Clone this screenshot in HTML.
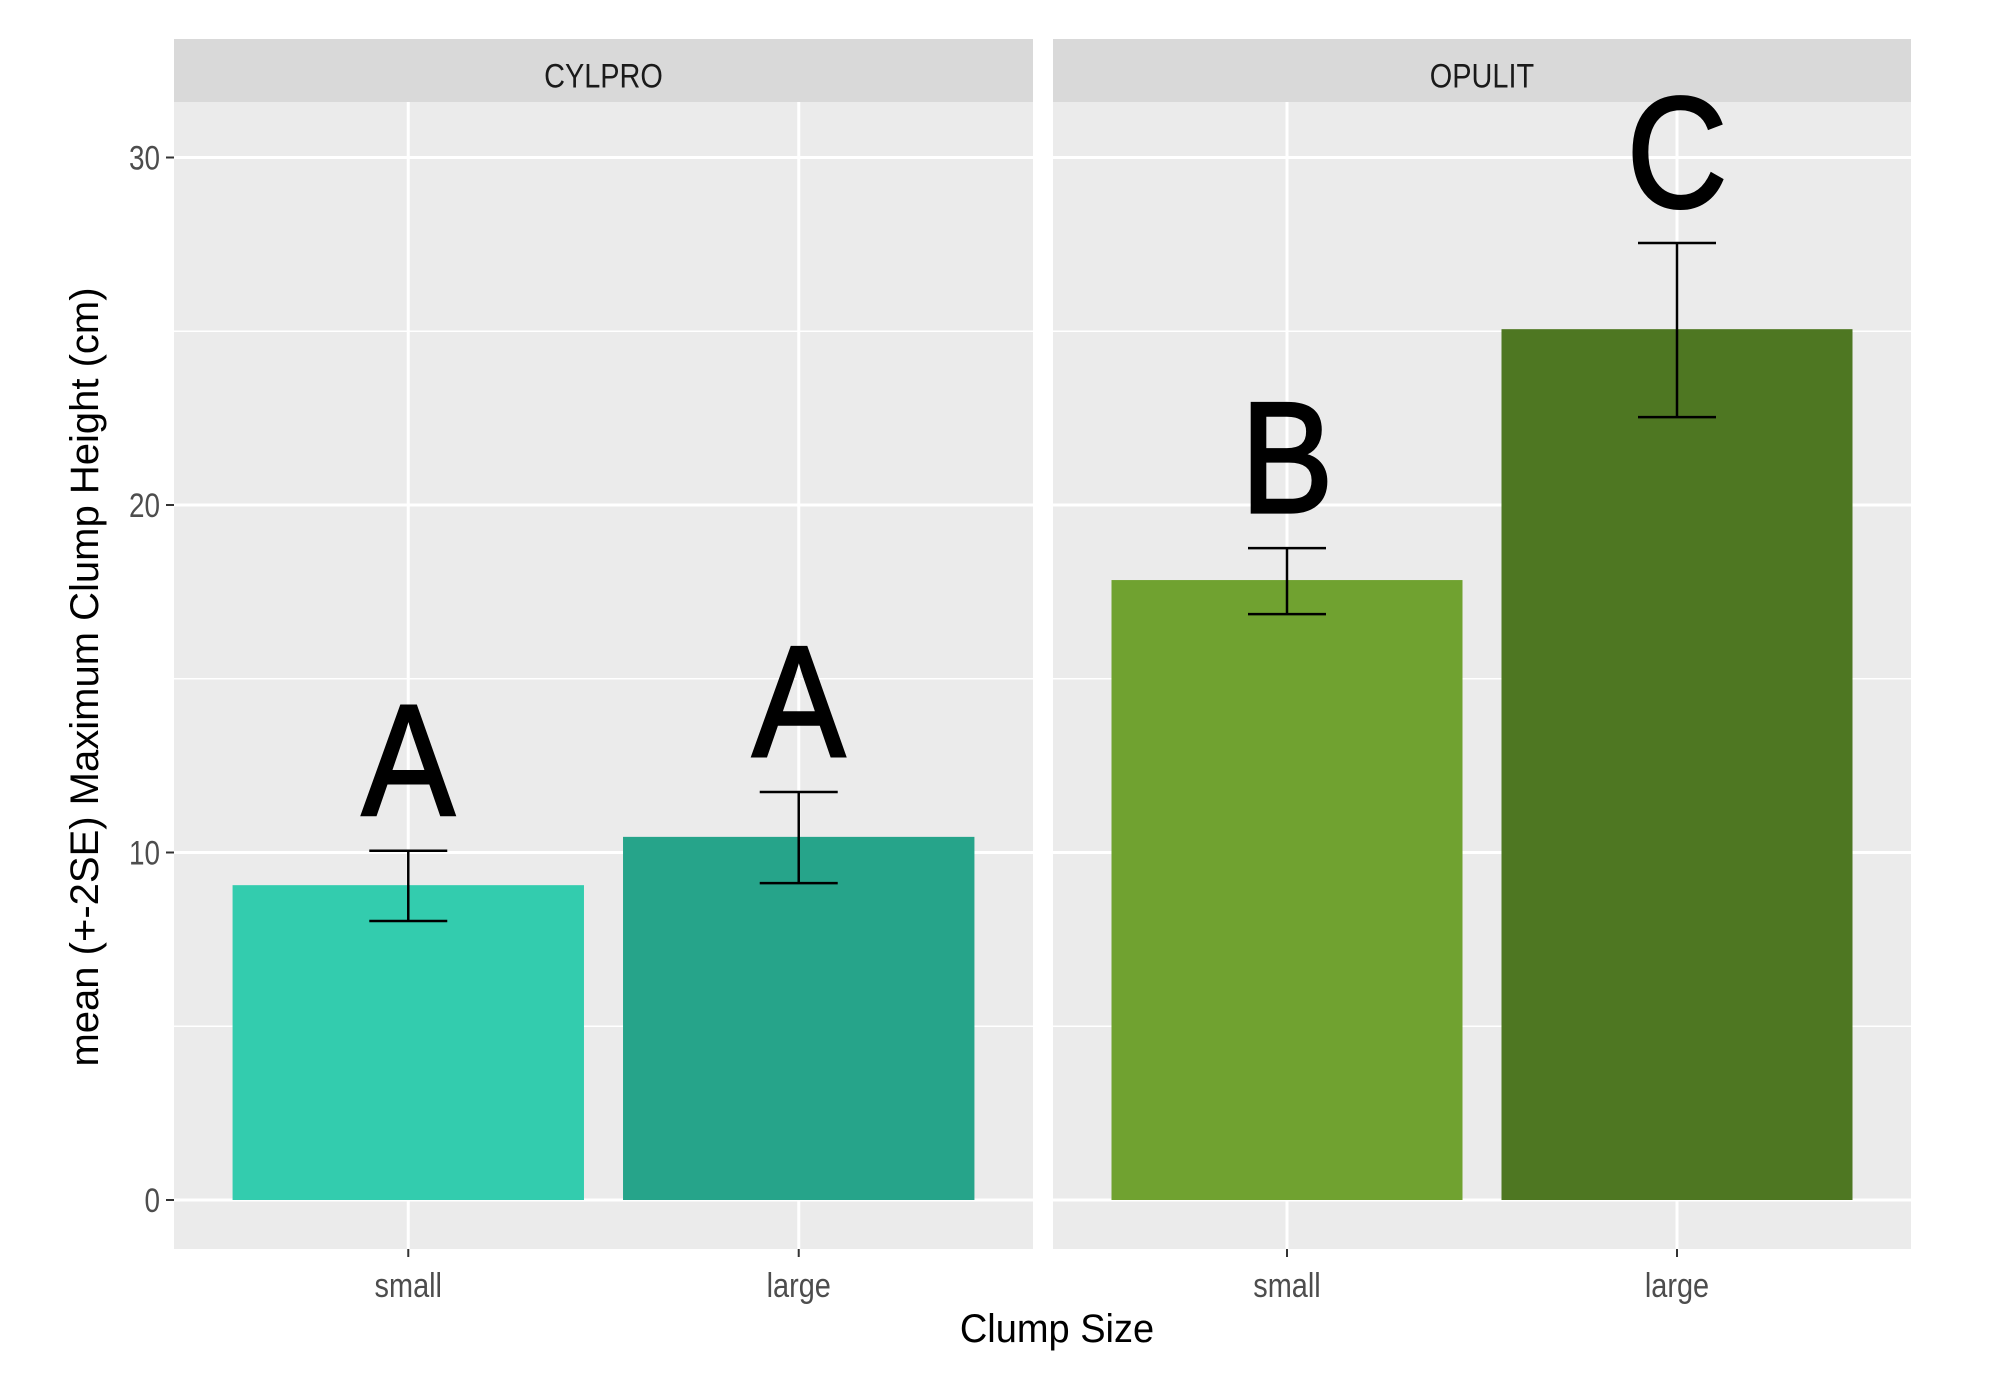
<!DOCTYPE html>
<html><head><meta charset="utf-8"><style>
html,body{margin:0;padding:0;background:#fff;}
svg{display:block;font-family:"Liberation Sans",sans-serif;}
</style></head><body>
<svg id="chart" width="2009" height="1384" viewBox="0 0 2009 1384" xmlns="http://www.w3.org/2000/svg"></svg>
<script>
const facets = ["CYLPRO", "OPULIT"];
const categories = ["small", "large"];
const meanValues = [[9.06, 10.45], [17.84, 25.06]];
const errUpper = [[10.05, 11.74], [18.76, 27.54]];
const errLower = [[8.03, 9.12], [16.86, 22.53]];
const letters = [["A", "A"], ["B", "C"]];
const barColors = [["#33CCAE", "#26A48A"], ["#70A230", "#4E7722"]];
const yTicks = [0, 10, 20, 30];
const yMinor = [5, 15, 25];

const NS = "http://www.w3.org/2000/svg";
const svg = document.getElementById('chart');
function mk(tag, attrs, parent){const e=document.createElementNS(NS,tag);for(const k in attrs)e.setAttribute(k,attrs[k]);(parent||svg).appendChild(e);return e;}
function squeeze(cx, cy, sx, sy){return `translate(${cx},${cy}) scale(${sx},${sy}) translate(${-cx},${-cy})`;}

const y = v => 1200 - 34.75 * v;
const panelX = [[174, 1033], [1053, 1911]];
const stripTop = 39, stripBot = 102, panelBot = 1249;

facets.forEach((f, fi) => {
  const [x0, x1] = panelX[fi];
  const step = (x1 - x0) / 2.2;
  const cx = i => x0 + step * (0.6 + i);
  const bw = step * 0.9;
  const g = mk('g', {});
  
  
  const bg = mk('rect', {x:x0, y:stripBot, width:x1-x0, height:panelBot-stripBot, fill:'#EBEBEB'}, g);
  
  
  yMinor.forEach(v => { const l = mk('line', {x1:x0, x2:x1, y1:y(v), y2:y(v), stroke:'#fff', 'stroke-width':1.5}, g);
      });
  yTicks.forEach(v => { const l = mk('line', {x1:x0, x2:x1, y1:y(v), y2:y(v), stroke:'#fff', 'stroke-width':3}, g);
      });
  categories.forEach((c, i) => { const l = mk('line', {x1:cx(i), x2:cx(i), y1:stripBot, y2:panelBot, stroke:'#fff', 'stroke-width':3}, g);
      });
  const st = mk('rect', {x:x0, y:stripTop, width:x1-x0, height:stripBot-stripTop, fill:'#D9D9D9'}, g);
   
  const sx = (x0+x1)/2, sy = (stripTop+stripBot)/2+17;
  const stt = mk('text', {x:sx, y:sy, 'text-anchor':'middle', 'font-size':34, fill:'#1a1a1a', transform:squeeze(sx, sy, 0.85, 1)}, g);
  stt.textContent = f;  

  categories.forEach((c, i) => {
    const v = meanValues[fi][i];
    const b = mk('rect', {x:cx(i)-bw/2, y:y(v), width:bw, height:y(0)-y(v), fill:barColors[fi][i]}, g);
     
    const hu = y(errUpper[fi][i]), hl = y(errLower[fi][i]);
    const eg = mk('g', {stroke:'#000', 'stroke-width':2.5}, g);
     
    mk('line', {x1:cx(i), x2:cx(i), y1:hu, y2:hl}, eg);
    mk('line', {x1:cx(i)-39, x2:cx(i)+39, y1:hu, y2:hu}, eg);
    mk('line', {x1:cx(i)-39, x2:cx(i)+39, y1:hl, y2:hl}, eg);
    const ly = hu - 36;
    const lt = mk('text', {x:cx(i), y:ly, 'text-anchor':'middle', 'font-size':158, fill:'#000', stroke:'#000', 'stroke-width':3, transform:squeeze(cx(i), ly, 0.88, 1)}, g);
    lt.textContent = letters[fi][i];  
    const tk = mk('line', {x1:cx(i), x2:cx(i), y1:panelBot, y2:panelBot+8, stroke:'#333', 'stroke-width':2}, g);
     
    const xl = mk('text', {x:cx(i), y:1297, 'text-anchor':'middle', 'font-size':34, fill:'#4d4d4d', transform:squeeze(cx(i), 1297, 0.85, 1)}, g);
    xl.textContent = c;  
  });
});

yTicks.forEach(v => {
  const tk = mk('line', {x1:166, x2:174, y1:y(v), y2:y(v), stroke:'#333', 'stroke-width':2});
   
  const t = mk('text', {x:160, y:y(v)+12, 'text-anchor':'end', 'font-size':34, fill:'#4d4d4d', transform:squeeze(160, y(v), 0.82, 1)});
  t.textContent = v;  
});

const xt = mk('text', {x:1057, y:1342, 'text-anchor':'middle', 'font-size':40, fill:'#000', transform:squeeze(1057, 1342, 0.95, 1)});
xt.textContent = 'Clump Size';  
const yt = mk('text', {x:0, y:0, 'text-anchor':'middle', 'font-size':40, fill:'#000', transform:'translate(98,677) rotate(-90)'});
yt.textContent = 'mean (+-2SE) Maximum Clump Height (cm)';  
</script>
</body></html>
